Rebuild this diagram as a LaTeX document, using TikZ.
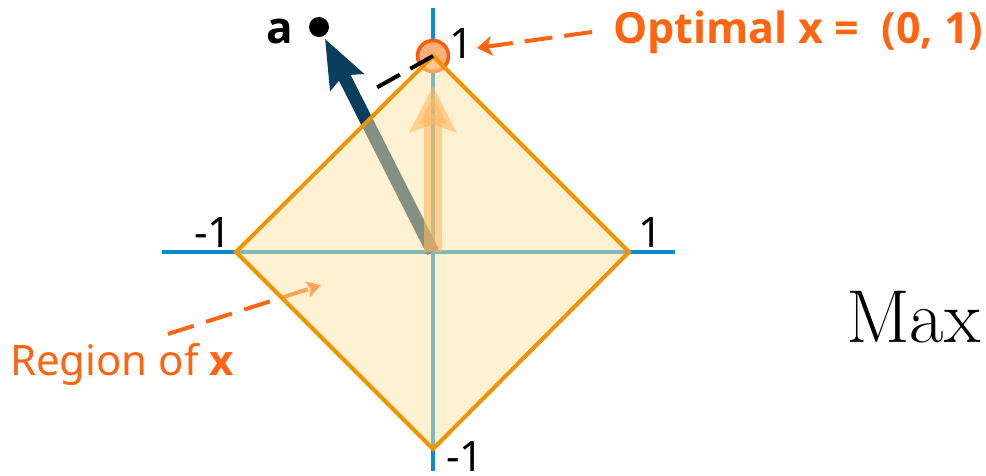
\documentclass[tikz,border=0pt]{standalone}
\usepackage{fontspec}
\newfontfamily\noto{Noto Sans}
\newfontfamily\notob{Open Sans}
\usetikzlibrary{arrows.meta}
\definecolor{axisblue}{HTML}{0A8CCC}
\definecolor{dorange}{HTML}{F39200}
\definecolor{dfill}{HTML}{FDE4A6}
\definecolor{navy}{HTML}{0A3D5E}
\definecolor{lbl}{HTML}{FF6410}
\definecolor{oarrow}{HTML}{FF8C1A}
\definecolor{ringred}{HTML}{FF5A10}
\definecolor{ringfill}{HTML}{FBAF7A}
\begin{document}
\begin{tikzpicture}[x=1pt,y=-1pt,
  every node/.style={inner sep=0pt, outer sep=0pt},
  axisline/.style={axisblue, line width=3.5pt},
  numlbl/.style={font=\noto\fontsize{42}{48}\selectfont, text=black},
  calloutline/.style={lbl, line width=4pt, dash pattern=on 27pt off 13pt},
  region/.style={draw=dorange, line width=4pt, line join=miter, fill=dfill, fill opacity=0.5, draw opacity=1}
]
\useasboundingbox (0,0) rectangle (986,475);
% key points
\coordinate (O) at (433,252);
\coordinate (T) at (433,56);
\coordinate (R) at (629,252);
\coordinate (L) at (236,252);
\coordinate (B) at (433,449);
\coordinate (xl) at (162,252);
\coordinate (xr) at (675,252);
\coordinate (yt) at (433,8);
\coordinate (yb) at (433,471);
\coordinate (otip) at (433,86);
% axes
\draw[axisline] (xl) -- (xr);
\draw[axisline] (yt) -- (yb);
% point a
\node[circle, fill=black, minimum size=20pt, outer sep=3pt] (adot) at (319,27) {};
\node[anchor=base west, font=\notob\bfseries\fontsize{44}{50}\selectfont] (alabel) at (266,43) {a};
% vector a
\draw[navy, line width=13pt, -{Stealth[length=48pt,width=36pt,inset=7pt]}] (O) -- (adot);
% optimal direction arrow
\draw[oarrow, opacity=0.6, line width=18pt, -{Stealth[length=46pt,width=46pt,inset=8pt]}] (O) -- (otip);
% optimal marker
\node[circle, draw=ringred, fill=ringfill, line width=3.5pt, minimum size=31pt] (opt) at (T) {};
% region callout arrow (under the fill)
\coordinate (rstart) at (168,334);
\coordinate (rend) at (321,285);
\draw[calloutline, -{Stealth[length=14pt,width=16pt,inset=3pt]}] (rstart) -- (rend);
% feasible region
\path[region] (T) -- (R) -- (B) -- (L) -- cycle;
% projection dashed line
\coordinate (proj) at (376,88);
\draw[black, line width=4pt, dash pattern=on 26pt off 12pt] (T) -- (proj);
% labels
\node[numlbl, anchor=base west] (t1) at (449,58) {1};
\node[numlbl, anchor=base east] (l1) at (232,247) {-1};
\node[numlbl, anchor=base west] (r1) at (638,247) {1};
\node[numlbl, anchor=base west] (b1) at (446,471) {-1};
\node[anchor=base west, text=lbl, font=\notob\bfseries\fontsize{43}{50}\selectfont] (optlbl) at (613,43) {Optimal x =\ \ (0, 1)};
\node[anchor=base west, text=lbl, font=\noto\fontsize{42}{50}\selectfont] (reglbl) at (10,375) {Region of {\notob\bfseries x}};
\node[anchor=base west, font=\fontsize{75}{86}\selectfont] (maxlbl) at (846,342) {Max};
% optimal callout
\coordinate (ostart) at (592,32);
\coordinate (oend) at (477,48);
\draw[calloutline, dash pattern=on 28pt off 12pt, -{Stealth[length=15pt,width=20pt,inset=4pt]}] (ostart) -- (oend);
\end{tikzpicture}
\end{document}
